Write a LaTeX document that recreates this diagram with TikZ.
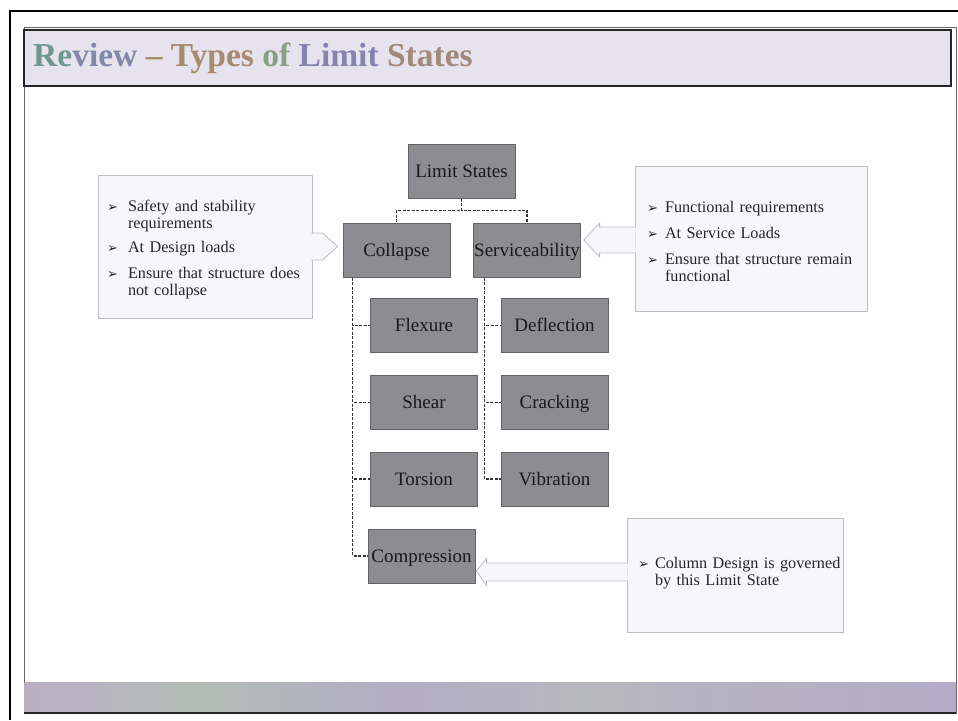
\documentclass[tikz,border=0pt]{standalone}
\usepackage{fontspec}
\setmainfont{Liberation Serif}
\newfontfamily\bulletfont{DejaVu Sans}
\usepackage{tikz}
\usetikzlibrary{calc}

\definecolor{boxgray}{HTML}{8D8C91}
\definecolor{notefill}{HTML}{F7F6FA}
\definecolor{noteline}{HTML}{BDBCC2}
\definecolor{bandfill}{HTML}{E7E3EE}
\definecolor{linkgray}{HTML}{333333}
\definecolor{ttlteal}{HTML}{72978F}
\definecolor{ttlbrown}{HTML}{A58C6E}
\definecolor{ttlgreen}{HTML}{8A9E84}
\definecolor{ttlblue}{HTML}{8584AE}
\definecolor{bandA}{HTML}{B5ABC6}
\definecolor{bandB}{HTML}{B9B2C2}
\definecolor{bandC}{HTML}{B2BDB4}
\definecolor{bandD}{HTML}{B3ADC6}
\definecolor{bandE}{HTML}{B7B7BE}
\definecolor{bandF}{HTML}{B3ABC8}
\definecolor{bandG}{HTML}{AAB3C6}
\pgfdeclarehorizontalshading{bottomband}{100bp}{color(0bp)=(bandA); color(28bp)=(bandB); color(34bp)=(bandC); color(45bp)=(bandD); color(55bp)=(bandE); color(75bp)=(bandF); color(100bp)=(bandG)}

\newcommand{\bitem}[2][21pt]{\par\noindent\makebox[#1][l]{\bulletfont\fontsize{13}{13}\selectfont ➢}%
  \parbox[t]{240pt}{\raggedright\hyphenpenalty=10000 #2}}
\newcommand{\bgap}{\par\vspace{8.5pt}}

\begin{document}
\begin{tikzpicture}[x=1pt,y=-1pt,
    state/.style={draw=boxgray!70!black,line width=0.6pt,fill=boxgray,minimum width=107pt,minimum height=54pt,inner sep=0pt,text height=13pt,text depth=0.5pt,font=\fontsize{19}{19}\selectfont,text=black!90},
    note/.style={draw=noteline,line width=0.8pt,fill=notefill,inner ysep=0pt,align=left,font=\fontsize{16.2}{17.2}\selectfont,text=black!85},
    link/.style={draw=linkgray,line width=1.3pt,dash pattern=on 3pt off 1.5pt},
    pointer/.style={draw=noteline,line width=0.8pt,fill=notefill,line join=miter}]
  \useasboundingbox (0,0) rectangle (958,720);
  \fill[white] (0,0) rectangle (958,720);
  % slide frame, title band, bottom band
  \draw[black!60,line width=0.8pt] (24,27) rectangle (956,713);
  \filldraw[fill=bandfill,draw=black!85,line width=1.4pt] (24,30) rectangle (951,86);
  \shade[shading=bottomband] (24.5,682) rectangle (955.5,712.5);
  \draw[black!85,line width=1.2pt] (24,713) -- (956,713);
  \draw[black,line width=2.5pt] (958,11) -- (10,11) -- (10,720);
  \node[anchor=base west,inner sep=0pt,font=\fontsize{33.5}{33.5}\selectfont\bfseries] (title) at (33,66)
    {\textcolor{ttlteal}{Re}\textcolor{ttlblue!80!ttlteal}{view} \textcolor{ttlbrown}{--} \textcolor{ttlbrown}{Types} \textcolor{ttlgreen}{of} \textcolor{ttlblue}{Limit} \textcolor{ttlbrown!80!ttlblue}{States}};

  % limit states tree
  \node[state] (limit) at (461.5,171.5) {Limit States};
  \node[state] (collapse) at (396.5,250.5) {Collapse};
  \node[state] (service) at (527,250.5) {Serviceability};
  \node[state] (flexure) at (424,325.5) {Flexure};
  \node[state] (shear) at (424,402.5) {Shear};
  \node[state] (torsion) at (424,479) {Torsion};
  \node[state] (compression) at (421.5,556) {Compression};
  \node[state] (deflection) at (554.5,325.5) {Deflection};
  \node[state] (cracking) at (554.5,402.5) {Cracking};
  \node[state] (vibration) at (554.5,479) {Vibration};

  \draw[link] (limit.south) -- ++(0,11.5) -| (collapse.north);
  \draw[link] (limit.south) -- ++(0,11.5) -| (service.north);
  \coordinate (ctrunk) at ($(collapse.south west)+(10,0)$);
  \coordinate (strunk) at ($(service.south west)+(11,0)$);
  \foreach \n in {flexure,shear,torsion,compression}
    \draw[link] (ctrunk) |- (\n.west);
  \foreach \n in {deflection,cracking,vibration}
    \draw[link] (strunk) |- (\n.west);

  % notes
  \node[note,text width=196pt,inner xsep=9pt,minimum height=143pt] (notec) at (205,246.5)
    {\bitem[21pt]{Safety and stability\\requirements}\bgap
     \bitem[21pt]{At Design loads}\bgap
     \bitem[21pt]{Ensure that structure does\\not collapse}};
  \node[note,text width=208pt,inner xsep=12pt,minimum height=145pt] (notes) at (751,238.5)
    {\bitem[18pt]{Functional requirements}\bgap
     \bitem[18pt]{At Service Loads}\bgap
     \bitem[18pt]{Ensure that structure remain\\functional}};
  \node[note,text width=194pt,inner xsep=11pt,minimum height=114pt] (notep) at (735,575)
    {\bitem[17pt]{Column Design is governed\\by this Limit State}\par\nointerlineskip\vspace{10pt}\hbox{}};

  % block arrows from notes
  \path[pointer] ($(notec.east)+(-1,-13.5)$) -- ++(11,0)
    -- ($(collapse.west|-notec.east)+(-5,0)$) -- ($(notec.east)+(10,13.5)$) -- ++(-11,0);
  \path[pointer] ($(notes.west)+(1,-11.5)$) -- ++(-36,0) -- ++(0,-4)
    -- ($(service.east|-notes.west)+(3,1.5)$) -- ($(notes.west)+(-35,18.5)$) -- ++(0,-4) -- ++(36,0);
  \path[pointer] ($(notep.west)+(1,-12)$) -- ++(-141,0) -- ++(0,-4.5)
    -- ($(compression.east|-notep.west)+(1,-4)$) -- ($(notep.west)+(-140,10.5)$) -- ++(0,-4.5) -- ++(141,0);
\end{tikzpicture}
\end{document}
